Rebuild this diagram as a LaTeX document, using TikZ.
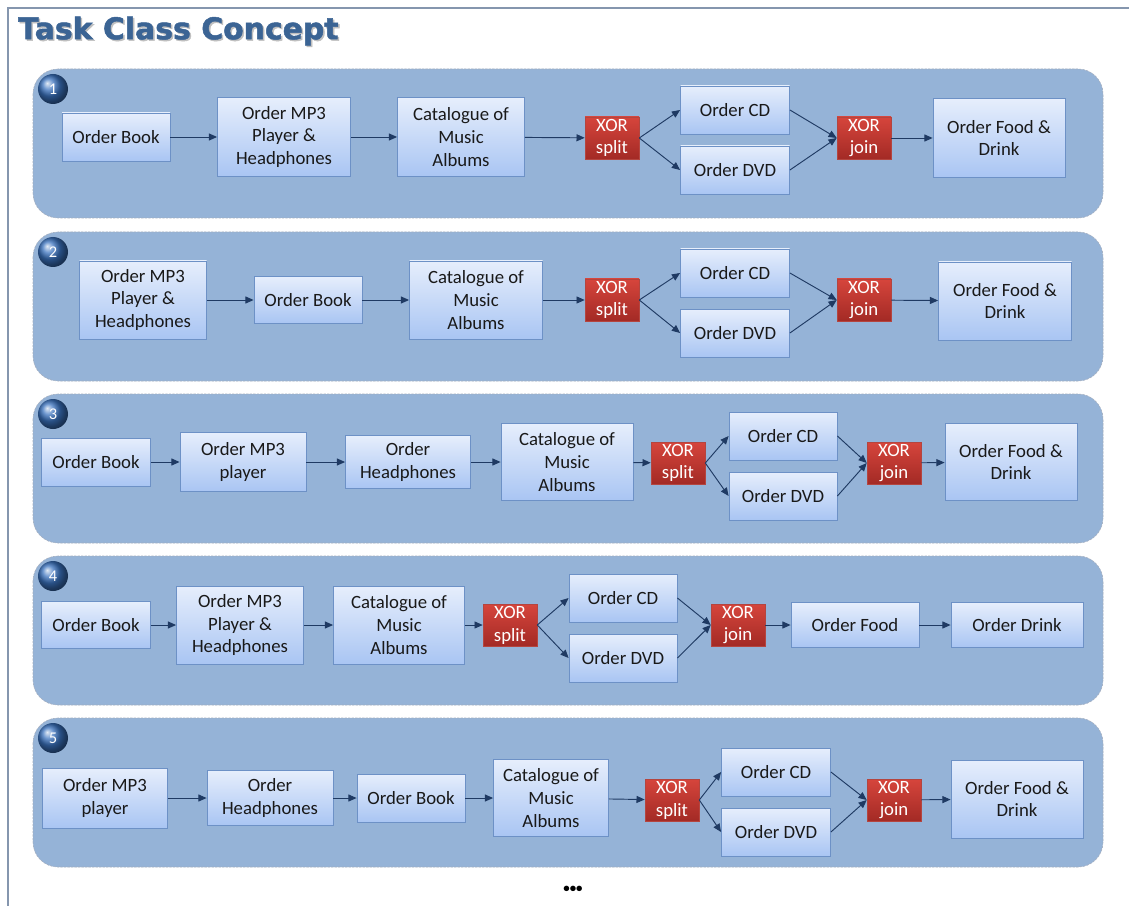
\documentclass[tikz,border=0pt]{standalone}
\usepackage{fontspec}
\setmainfont{Carlito}
\newfontface\titlefont{DejaVu Sans Bold}[FakeBold=1.6]
\usetikzlibrary{arrows.meta,shadows}
\definecolor{panelfill}{HTML}{95B3D7}
\definecolor{panelline}{HTML}{A3AEBF}
\definecolor{boxtop}{HTML}{E6EEFC}
\definecolor{boxbot}{HTML}{A9C5F3}
\definecolor{boxline}{HTML}{6D91C6}
\definecolor{xortop}{HTML}{D6453C}
\definecolor{xorbot}{HTML}{A32A25}
\definecolor{xorline}{HTML}{B4453F}
\definecolor{flow}{HTML}{1F3A63}
\definecolor{titleblue}{HTML}{3B6494}
\definecolor{framegray}{HTML}{8596AE}
\definecolor{ballblue}{HTML}{3A72BE}
\tikzset{
  panel/.style={draw=panelline, fill=panelfill, dash pattern=on 2pt off 1pt,
    line width=0.5pt, rounded corners=0.75cm},
  tbox/.style 2 args={draw=boxline, line width=0.7pt, top color=boxtop,
    bottom color=boxbot, minimum width=#1*0.03cm, minimum height=#2*0.03cm,
    inner sep=0pt, align=center, text=black!90,
    font=\fontsize{16}{19.5}\selectfont,
    drop shadow={shadow xshift=0.6pt, shadow yshift=-0.8pt, opacity=0.35}},
  xor/.style={draw=xorline, line width=0.5pt, top color=xortop,
    bottom color=xorbot, minimum width=54*0.03cm, minimum height=42*0.03cm,
    inner sep=0pt, align=center, text=white,
    font=\fontsize{16}{19.5}\selectfont,
    drop shadow={shadow xshift=0.6pt, shadow yshift=-0.8pt, opacity=0.35}},
  badge/.style={circle, shading=ball, ball color=ballblue, minimum size=30*0.03cm,
    inner sep=0pt, text=white, font=\fontsize{14}{16}\selectfont},
  flowarrow/.style={draw=flow, line width=0.8pt,
    -{Triangle[length=7pt,width=6pt]}},
  titletext/.style={anchor=west, inner sep=0pt,
    font=\titlefont\fontsize{25.5}{30}\selectfont},
}
\begin{document}
\begin{tikzpicture}[x=0.03cm,y=-0.03cm]
\useasboundingbox[fill=white] (0,0) rectangle (1129,906);
% page frame
\draw[framegray, line width=1pt] (8,906) -- (8,8) -- (1129,8);
% title with soft shadow
\node[titletext, text=black!25] (titleshadow) at (19.5,32.5) {Task Class Concept};
\node[titletext, text=titleblue] (title) at (18,31) {Task Class Concept};

% panels
\foreach \t in {69,232,394,556,718}
  \draw[panel] (33,\t) rectangle (1103,\t+149);

% ---------- variant 1 ----------
\node[badge] (n1) at (53,89) {1};
\node[tbox={108}{48}] (a1) at (116,137) {Order Book};
\node[tbox={133}{79}] (b1) at (284,137) {Order MP3\\Player \&\\Headphones};
\node[tbox={127}{79}] (c1) at (461,137) {Catalogue of\\Music\\Albums};
\node[xor] (s1) at (612,138) {XOR\\split};
\node[tbox={109}{48}] (cd1) at (735,110) {Order CD};
\node[tbox={109}{48}] (dvd1) at (735,170) {Order DVD};
\node[xor] (j1) at (864,138) {XOR\\join};
\node[tbox={132}{79}] (f1) at (999,138) {Order Food \&\\Drink};
\draw[flowarrow] (a1) -- (b1);
\draw[flowarrow] (b1) -- (c1);
\draw[flowarrow] (c1) -- (s1);
\draw[flowarrow] (s1.east) -- (cd1.west);
\draw[flowarrow] (s1.east) -- (dvd1.west);
\draw[flowarrow] (cd1.east) -- (j1.west);
\draw[flowarrow] (dvd1.east) -- (j1.west);
\draw[flowarrow] (j1) -- (f1);

% ---------- variant 2 ----------
\node[badge] (n2) at (53,252) {2};
\node[tbox={127}{78}] (a2) at (143,300) {Order MP3\\Player \&\\Headphones};
\node[tbox={108}{47}] (b2) at (308,300) {Order Book};
\node[tbox={133}{78}] (c2) at (476,300) {Catalogue of\\Music\\Albums};
\node[xor] (s2) at (612,300) {XOR\\split};
\node[tbox={109}{48}] (cd2) at (735,273) {Order CD};
\node[tbox={109}{48}] (dvd2) at (735,333) {Order DVD};
\node[xor] (j2) at (864,300) {XOR\\join};
\node[tbox={133}{78}] (f2) at (1005,301) {Order Food \&\\Drink};
\draw[flowarrow] (a2) -- (b2);
\draw[flowarrow] (b2) -- (c2);
\draw[flowarrow] (c2) -- (s2);
\draw[flowarrow] (s2.east) -- (cd2.west);
\draw[flowarrow] (s2.east) -- (dvd2.west);
\draw[flowarrow] (cd2.east) -- (j2.west);
\draw[flowarrow] (dvd2.east) -- (j2.west);
\draw[flowarrow] (j2) -- (f2);

% ---------- variant 3 ----------
\node[badge] (n3) at (53,414) {3};
\node[tbox={109}{48}] (a3) at (96,462) {Order Book};
\node[tbox={126}{59}] (b3) at (243,462) {Order MP3\\player};
\node[tbox={125}{53}] (h3) at (408,462) {Order\\Headphones};
\node[tbox={132}{77}] (c3) at (567,462) {Catalogue of\\Music\\Albums};
\node[xor] (s3) at (678,463) {XOR\\split};
\node[tbox={108}{48}] (cd3) at (783,436) {Order CD};
\node[tbox={108}{48}] (dvd3) at (783,496) {Order DVD};
\node[xor] (j3) at (894,463) {XOR\\join};
\node[tbox={132}{77}] (f3) at (1011,462) {Order Food \&\\Drink};
\draw[flowarrow] (a3) -- (b3);
\draw[flowarrow] (b3) -- (h3);
\draw[flowarrow] (h3) -- (c3);
\draw[flowarrow] (c3) -- (s3);
\draw[flowarrow] (s3.east) -- (cd3.west);
\draw[flowarrow] (s3.east) -- (dvd3.west);
\draw[flowarrow] (cd3.east) -- (j3.west);
\draw[flowarrow] (dvd3.east) -- (j3.west);
\draw[flowarrow] (j3) -- (f3);

% ---------- variant 4 ----------
\node[badge] (n4) at (53,576) {4};
\node[tbox={109}{47}] (a4) at (96,625) {Order Book};
\node[tbox={127}{78}] (b4) at (240,625) {Order MP3\\Player \&\\Headphones};
\node[tbox={131}{78}] (c4) at (399,625) {Catalogue of\\Music\\Albums};
\node[xor] (s4) at (510,625) {XOR\\split};
\node[tbox={108}{48}] (cd4) at (623,598) {Order CD};
\node[tbox={108}{48}] (dvd4) at (623,658) {Order DVD};
\node[xor] (j4) at (738,625) {XOR\\join};
\node[tbox={128}{45}] (fo4) at (855,625) {Order Food};
\node[tbox={132}{45}] (dr4) at (1017,625) {Order Drink};
\draw[flowarrow] (a4) -- (b4);
\draw[flowarrow] (b4) -- (c4);
\draw[flowarrow] (c4) -- (s4);
\draw[flowarrow] (s4.east) -- (cd4.west);
\draw[flowarrow] (s4.east) -- (dvd4.west);
\draw[flowarrow] (cd4.east) -- (j4.west);
\draw[flowarrow] (dvd4.east) -- (j4.west);
\draw[flowarrow] (j4) -- (fo4);
\draw[flowarrow] (fo4) -- (dr4);

% ---------- variant 5 ----------
\node[badge] (n5) at (53,738) {5};
\node[tbox={125}{60}] (a5) at (105,798) {Order MP3\\player};
\node[tbox={126}{55}] (h5) at (270,798) {Order\\Headphones};
\node[tbox={108}{48}] (b5) at (411,798) {Order Book};
\node[tbox={115}{77}] (c5) at (551,798) {Catalogue of\\Music\\Albums};
\node[xor] (s5) at (672,800) {XOR\\split};
\node[tbox={109}{48}] (cd5) at (776,772) {Order CD};
\node[tbox={109}{48}] (dvd5) at (776,832) {Order DVD};
\node[xor] (j5) at (894,800) {XOR\\join};
\node[tbox={132}{78}] (f5) at (1017,799) {Order Food \&\\Drink};
\draw[flowarrow] (a5) -- (h5);
\draw[flowarrow] (h5) -- (b5);
\draw[flowarrow] (b5) -- (c5);
\draw[flowarrow] (c5) -- (s5);
\draw[flowarrow] (s5.east) -- (cd5.west);
\draw[flowarrow] (s5.east) -- (dvd5.west);
\draw[flowarrow] (cd5.east) -- (j5.west);
\draw[flowarrow] (dvd5.east) -- (j5.west);
\draw[flowarrow] (j5) -- (f5);

% continuation mark
\node[font=\bfseries\fontsize{11}{12}\selectfont, inner sep=0pt] (more) at (573,889) {•••};
\end{tikzpicture}
\end{document}
